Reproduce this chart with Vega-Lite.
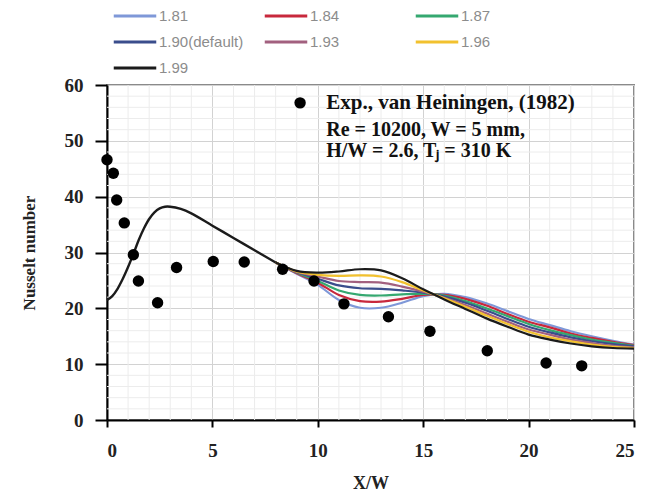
{
  "$schema": "https://vega.github.io/schema/vega-lite/v6.json",
  "width": 527,
  "height": 335,
  "autosize": "none",
  "padding": {"left": 107, "top": 85, "right": 12, "bottom": 75},
  "background": "white",
  "config": {"view": {"stroke": "#8a8a8a", "strokeWidth": 2}},
  "datasets": {
    "gridx": [{"g": 1}, {"g": 2}, {"g": 3}, {"g": 4}, {"g": 6}, {"g": 7}, {"g": 8}, {"g": 9}, {"g": 11}, {"g": 12}, {"g": 13}, {"g": 14}, {"g": 16}, {"g": 17}, {"g": 18}, {"g": 19}, {"g": 21}, {"g": 22}, {"g": 23}, {"g": 24}],
    "gridy": [{"g": 2}, {"g": 4}, {"g": 6}, {"g": 8}, {"g": 12}, {"g": 14}, {"g": 16}, {"g": 18}, {"g": 22}, {"g": 24}, {"g": 26}, {"g": 28}, {"g": 32}, {"g": 34}, {"g": 36}, {"g": 38}, {"g": 42}, {"g": 44}, {"g": 46}, {"g": 48}, {"g": 52}, {"g": 54}, {"g": 56}, {"g": 58}],
    "common": [
      {"x": 0, "nu": 21.5}, {"x": 0.25, "nu": 22.2}, {"x": 0.5, "nu": 23.5}, {"x": 0.75, "nu": 25.3},
      {"x": 1, "nu": 27.4}, {"x": 1.25, "nu": 29.7}, {"x": 1.5, "nu": 32.2}, {"x": 1.75, "nu": 34.3},
      {"x": 2, "nu": 36.0}, {"x": 2.25, "nu": 37.2}, {"x": 2.5, "nu": 37.9}, {"x": 2.75, "nu": 38.2},
      {"x": 3, "nu": 38.2}, {"x": 3.5, "nu": 37.8}, {"x": 4, "nu": 37.0}, {"x": 5, "nu": 34.8},
      {"x": 6, "nu": 32.6}, {"x": 7, "nu": 30.4}, {"x": 8, "nu": 28.2}
    ],
    "exp": [
      {"x": 0, "nu": 46.6}, {"x": 0.3, "nu": 44.2}, {"x": 0.46, "nu": 39.4}, {"x": 0.82, "nu": 35.3},
      {"x": 1.25, "nu": 29.6}, {"x": 1.49, "nu": 24.9}, {"x": 2.4, "nu": 21.0}, {"x": 3.3, "nu": 27.3},
      {"x": 5.04, "nu": 28.4}, {"x": 6.51, "nu": 28.3}, {"x": 8.33, "nu": 27.0}, {"x": 9.82, "nu": 24.9},
      {"x": 11.24, "nu": 20.8}, {"x": 13.35, "nu": 18.5}, {"x": 15.32, "nu": 15.9}, {"x": 18.04, "nu": 12.4},
      {"x": 20.83, "nu": 10.2}, {"x": 22.52, "nu": 9.7}
    ],
    "series": [
      {"s": "1.81", "x": 8, "nu": 28.2}, {"s": "1.84", "x": 8, "nu": 28.2}, {"s": "1.87", "x": 8, "nu": 28.2}, {"s": "1.90(default)", "x": 8, "nu": 28.2}, {"s": "1.93", "x": 8, "nu": 28.2}, {"s": "1.96", "x": 8, "nu": 28.2}, {"s": "1.99", "x": 8, "nu": 28.2},
      {"s": "1.81", "x": 9, "nu": 26.2}, {"s": "1.84", "x": 9, "nu": 26.3}, {"s": "1.87", "x": 9, "nu": 26.4}, {"s": "1.90(default)", "x": 9, "nu": 26.5}, {"s": "1.93", "x": 9, "nu": 26.5}, {"s": "1.96", "x": 9, "nu": 26.6}, {"s": "1.99", "x": 9, "nu": 26.7},
      {"s": "1.81", "x": 10, "nu": 24.2}, {"s": "1.84", "x": 10, "nu": 24.6}, {"s": "1.87", "x": 10, "nu": 24.9}, {"s": "1.90(default)", "x": 10, "nu": 25.3}, {"s": "1.93", "x": 10, "nu": 25.7}, {"s": "1.96", "x": 10, "nu": 26.0}, {"s": "1.99", "x": 10, "nu": 26.4},
      {"s": "1.81", "x": 11, "nu": 21.5}, {"s": "1.84", "x": 11, "nu": 22.4}, {"s": "1.87", "x": 11, "nu": 23.2}, {"s": "1.90(default)", "x": 11, "nu": 24.1}, {"s": "1.93", "x": 11, "nu": 24.9}, {"s": "1.96", "x": 11, "nu": 25.8}, {"s": "1.99", "x": 11, "nu": 26.6},
      {"s": "1.81", "x": 12, "nu": 20.1}, {"s": "1.84", "x": 12, "nu": 21.3}, {"s": "1.87", "x": 12, "nu": 22.4}, {"s": "1.90(default)", "x": 12, "nu": 23.6}, {"s": "1.93", "x": 12, "nu": 24.7}, {"s": "1.96", "x": 12, "nu": 25.9}, {"s": "1.99", "x": 12, "nu": 27.0},
      {"s": "1.81", "x": 13, "nu": 20.1}, {"s": "1.84", "x": 13, "nu": 21.2}, {"s": "1.87", "x": 13, "nu": 22.3}, {"s": "1.90(default)", "x": 13, "nu": 23.5}, {"s": "1.93", "x": 13, "nu": 24.6}, {"s": "1.96", "x": 13, "nu": 25.7}, {"s": "1.99", "x": 13, "nu": 26.8},
      {"s": "1.81", "x": 14, "nu": 21.0}, {"s": "1.84", "x": 14, "nu": 21.7}, {"s": "1.87", "x": 14, "nu": 22.5}, {"s": "1.90(default)", "x": 14, "nu": 23.2}, {"s": "1.93", "x": 14, "nu": 23.9}, {"s": "1.96", "x": 14, "nu": 24.7}, {"s": "1.99", "x": 14, "nu": 25.4},
      {"s": "1.81", "x": 15, "nu": 22.2}, {"s": "1.84", "x": 15, "nu": 22.4}, {"s": "1.87", "x": 15, "nu": 22.6}, {"s": "1.90(default)", "x": 15, "nu": 22.8}, {"s": "1.93", "x": 15, "nu": 23.0}, {"s": "1.96", "x": 15, "nu": 23.2}, {"s": "1.99", "x": 15, "nu": 23.4},
      {"s": "1.81", "x": 16, "nu": 22.6}, {"s": "1.84", "x": 16, "nu": 22.4}, {"s": "1.87", "x": 16, "nu": 22.3}, {"s": "1.90(default)", "x": 16, "nu": 22.1}, {"s": "1.93", "x": 16, "nu": 21.9}, {"s": "1.96", "x": 16, "nu": 21.8}, {"s": "1.99", "x": 16, "nu": 21.6},
      {"s": "1.81", "x": 17, "nu": 22.0}, {"s": "1.84", "x": 17, "nu": 21.7}, {"s": "1.87", "x": 17, "nu": 21.3}, {"s": "1.90(default)", "x": 17, "nu": 21.0}, {"s": "1.93", "x": 17, "nu": 20.6}, {"s": "1.96", "x": 17, "nu": 20.3}, {"s": "1.99", "x": 17, "nu": 19.9},
      {"s": "1.81", "x": 18, "nu": 20.9}, {"s": "1.84", "x": 18, "nu": 20.5}, {"s": "1.87", "x": 18, "nu": 20.0}, {"s": "1.90(default)", "x": 18, "nu": 19.6}, {"s": "1.93", "x": 18, "nu": 19.1}, {"s": "1.96", "x": 18, "nu": 18.7}, {"s": "1.99", "x": 18, "nu": 18.2},
      {"s": "1.81", "x": 19, "nu": 19.5}, {"s": "1.84", "x": 19, "nu": 19.0}, {"s": "1.87", "x": 19, "nu": 18.6}, {"s": "1.90(default)", "x": 19, "nu": 18.1}, {"s": "1.93", "x": 19, "nu": 17.6}, {"s": "1.96", "x": 19, "nu": 17.2}, {"s": "1.99", "x": 19, "nu": 16.7},
      {"s": "1.81", "x": 20, "nu": 18.1}, {"s": "1.84", "x": 20, "nu": 17.6}, {"s": "1.87", "x": 20, "nu": 17.2}, {"s": "1.90(default)", "x": 20, "nu": 16.7}, {"s": "1.93", "x": 20, "nu": 16.2}, {"s": "1.96", "x": 20, "nu": 15.8}, {"s": "1.99", "x": 20, "nu": 15.3},
      {"s": "1.81", "x": 21, "nu": 17.0}, {"s": "1.84", "x": 21, "nu": 16.6}, {"s": "1.87", "x": 21, "nu": 16.1}, {"s": "1.90(default)", "x": 21, "nu": 15.7}, {"s": "1.93", "x": 21, "nu": 15.3}, {"s": "1.96", "x": 21, "nu": 14.8}, {"s": "1.99", "x": 21, "nu": 14.4},
      {"s": "1.81", "x": 22, "nu": 15.9}, {"s": "1.84", "x": 22, "nu": 15.5}, {"s": "1.87", "x": 22, "nu": 15.2}, {"s": "1.90(default)", "x": 22, "nu": 14.8}, {"s": "1.93", "x": 22, "nu": 14.4}, {"s": "1.96", "x": 22, "nu": 14.1}, {"s": "1.99", "x": 22, "nu": 13.7},
      {"s": "1.81", "x": 23, "nu": 15.0}, {"s": "1.84", "x": 23, "nu": 14.7}, {"s": "1.87", "x": 23, "nu": 14.4}, {"s": "1.90(default)", "x": 23, "nu": 14.1}, {"s": "1.93", "x": 23, "nu": 13.8}, {"s": "1.96", "x": 23, "nu": 13.5}, {"s": "1.99", "x": 23, "nu": 13.2},
      {"s": "1.81", "x": 24, "nu": 14.2}, {"s": "1.84", "x": 24, "nu": 14.0}, {"s": "1.87", "x": 24, "nu": 13.8}, {"s": "1.90(default)", "x": 24, "nu": 13.6}, {"s": "1.93", "x": 24, "nu": 13.3}, {"s": "1.96", "x": 24, "nu": 13.1}, {"s": "1.99", "x": 24, "nu": 12.9},
      {"s": "1.81", "x": 25, "nu": 13.5}, {"s": "1.84", "x": 25, "nu": 13.4}, {"s": "1.87", "x": 25, "nu": 13.3}, {"s": "1.90(default)", "x": 25, "nu": 13.2}, {"s": "1.93", "x": 25, "nu": 13.0}, {"s": "1.96", "x": 25, "nu": 12.9}, {"s": "1.99", "x": 25, "nu": 12.8}
    ]
  },
  "layer": [
    {
      "data": {"name": "gridx"},
      "mark": {"type": "rule", "color": "#ececec", "strokeWidth": 1},
      "encoding": {
        "x": {
          "field": "g", "type": "quantitative",
          "scale": {"domain": [0, 25], "nice": false, "zero": false},
          "axis": {
            "title": "X/W",
            "values": [0, 5, 10, 15, 20, 25],
            "labelOverlap": false,
            "gridColor": "#d2d2d2", "gridWidth": 1,
            "domainColor": "#000", "domainWidth": 2,
            "tickColor": "#000", "tickWidth": 2, "tickSize": 7,
            "labelFont": "Liberation Serif", "labelFontSize": 19, "labelFontWeight": "bold", "labelColor": "#222", "labelPadding": 14,
            "titleFont": "Liberation Serif", "titleFontSize": 18, "titleFontWeight": "bold", "titleColor": "#222", "titlePadding": 14
          }
        }
      }
    },
    {
      "data": {"name": "gridy"},
      "mark": {"type": "rule", "color": "#ececec", "strokeWidth": 1},
      "encoding": {
        "y": {
          "field": "g", "type": "quantitative",
          "scale": {"domain": [0, 60], "nice": false},
          "axis": {
            "title": "Nusselt number",
            "values": [0, 10, 20, 30, 40, 50, 60],
            "labelOverlap": false,
            "gridColor": "#d2d2d2", "gridWidth": 1,
            "domainColor": "#000", "domainWidth": 2,
            "tickColor": "#000", "tickWidth": 2, "tickSize": 12,
            "labelFont": "Liberation Serif", "labelFontSize": 19, "labelFontWeight": "bold", "labelColor": "#222", "labelPadding": 12,
            "titleFont": "Liberation Serif", "titleFontSize": 17, "titleFontWeight": "bold", "titleColor": "#222", "titlePadding": 26
          }
        }
      }
    },
    {
      "data": {"name": "series"},
      "mark": {"type": "line", "interpolate": "catmull-rom", "strokeWidth": 2.2},
      "encoding": {
        "x": {"field": "x", "type": "quantitative"},
        "y": {"field": "nu", "type": "quantitative"},
        "color": {
          "field": "s", "type": "nominal",
          "scale": {
            "domain": ["1.81", "1.84", "1.87", "1.90(default)", "1.93", "1.96", "1.99"],
            "range": ["#7f98d8", "#c8283c", "#35a870", "#3a4d8c", "#a2607f", "#f2c12e", "#1b1b1b"]
          },
          "legend": {
            "orient": "none", "legendX": 14, "legendY": -83,
            "direction": "horizontal", "columns": 3, "gridAlign": "all",
            "columnPadding": 14, "rowPadding": 4,
            "symbolType": "M-1.7,0H1.7", "symbolSize": 625, "symbolStrokeWidth": 3,
            "labelFont": "Liberation Sans", "labelFontSize": 15, "labelColor": "#8c8c8c", "labelOffset": 10,
            "title": null
          }
        }
      }
    },
    {
      "data": {"name": "common"},
      "mark": {"type": "line", "interpolate": "catmull-rom", "strokeWidth": 2.4, "color": "#1b1b1b"},
      "encoding": {
        "x": {"field": "x", "type": "quantitative"},
        "y": {"field": "nu", "type": "quantitative"}
      }
    },
    {
      "data": {"name": "exp"},
      "mark": {"type": "circle", "size": 130, "color": "#000", "opacity": 1},
      "encoding": {
        "x": {"field": "x", "type": "quantitative"},
        "y": {"field": "nu", "type": "quantitative"}
      }
    },
    {
      "data": {"values": [{}]},
      "mark": {"type": "circle", "size": 130, "color": "#000", "opacity": 1},
      "encoding": {"x": {"datum": 9.16}, "y": {"datum": 56.8}}
    },
    {
      "data": {"values": [{}]},
      "mark": {"type": "text", "align": "left", "baseline": "middle", "font": "Liberation Serif", "fontSize": 21, "fontWeight": "bold", "color": "#111", "text": "Exp., van Heiningen, (1982)"},
      "encoding": {"x": {"datum": 10.4}, "y": {"datum": 56.8}}
    },
    {
      "data": {"values": [{}]},
      "mark": {"type": "text", "align": "left", "baseline": "middle", "font": "Liberation Serif", "fontSize": 20, "fontWeight": "bold", "color": "#111", "text": "Re = 10200, W = 5 mm,"},
      "encoding": {"x": {"datum": 10.4}, "y": {"datum": 52.0}}
    },
    {
      "data": {"values": [{}]},
      "mark": {"type": "text", "align": "left", "baseline": "middle", "font": "Liberation Serif", "fontSize": 20, "fontWeight": "bold", "color": "#111", "text": "H/W = 2.6, Tⱼ = 310 K"},
      "encoding": {"x": {"datum": 10.4}, "y": {"datum": 48.2}}
    }
  ]
}
